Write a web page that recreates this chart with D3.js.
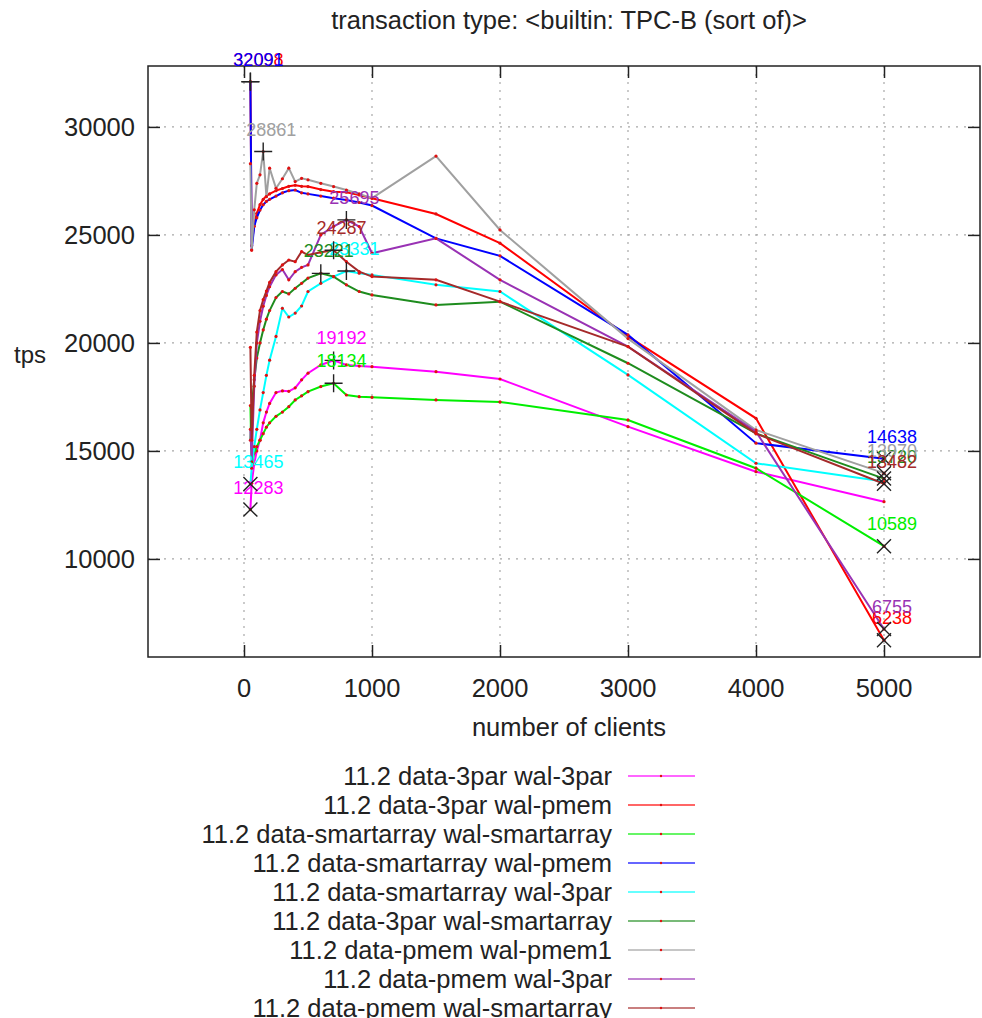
<!DOCTYPE html>
<html>
<head>
<meta charset="utf-8">
<script src="https://cdn.jsdelivr.net/npm/d3@7"></script>
<style>
  body { margin: 0; background: #fff; }
  text { font-family: "Liberation Sans", Arial, sans-serif; fill: #222; }
</style>
</head>
<body>
<div id="chart"></div>
<script>
// number of clients (shared by every run)
const clients = [50, 60, 80, 100, 125, 150, 175, 200, 250, 300, 350, 400, 450, 500,
                 600, 700, 800, 900, 1000, 1500, 2000, 3000, 4000, 5000];

const seriesNames = [
    '11.2 data-3par wal-3par',
    '11.2 data-3par wal-pmem',
    '11.2 data-smartarray wal-smartarray',
    '11.2 data-smartarray wal-pmem',
    '11.2 data-smartarray wal-3par',
    '11.2 data-3par wal-smartarray',
    '11.2 data-pmem wal-pmem1',
    '11.2 data-pmem wal-3par',
    '11.2 data-pmem wal-smartarray'
];
const seriesColors = ['#ff00ff', '#ff0000', '#00ee00', '#0000ff', '#00ffff',
                      '#1e8c1e', '#a0a0a0', '#9932b4', '#a52a2a'];

// tps per run, same order as clients
const tps3par3par = [12283, 13500, 14400, 15000, 15500, 16300, 16800, 17200, 17700, 17780, 17760, 17920, 18290, 18600,
                     18980, 19192, 18980, 18930, 18900, 18670, 18330, 16125, 14040, 12650];
const tps3parPmem = [32098, 24500, 25500, 26000, 26400, 26650, 26800, 26900, 27050, 27150, 27250, 27300, 27250, 27240,
                     27100, 27000, 26980, 26850, 26700, 25970, 24620, 20300, 16510, 6238];
const tpsSaSa = [17100, 14300, 14900, 15200, 15500, 15800, 16100, 16300, 16600, 16800, 17050, 17360, 17550, 17745,
                 17980, 18134, 17590, 17510, 17480, 17360, 17270, 16430, 14200, 10589];
const tpsSaPmem = [32091, 24300, 25400, 25800, 26150, 26400, 26550, 26650, 26800, 26950, 27050, 27080, 26950, 26900,
                   26800, 26700, 26620, 26500, 26360, 24840, 24030, 20370, 15360, 14638];
const tpsSa3par = [13465, 14200, 15200, 16000, 16900, 17700, 18500, 19200, 20300, 21600, 21200, 21380, 21710, 22380,
                   22760, 23070, 23331, 23230, 23150, 22690, 22380, 18520, 14430, 13580];
const tps3parSa = [15500, 17000, 18300, 19300, 20000, 20600, 21100, 21500, 22100, 22380, 22270, 22530, 22760, 23000,
                   23221, 23070, 22690, 22380, 22220, 21760, 21910, 19060, 15810, 13720];
const tpsPmemPmem1 = [28300, 24300, 26160, 27390, 27780, 28861, 26770, 28090, 27160, 27600, 28090, 27470, 27620, 27550,
                      27390, 27240, 27080, 26900, 26700, 28650, 25230, 20200, 15970, 13970];
const tpsPmem3par = [16000, 14500, 18000, 20000, 21000, 21700, 22200, 22600, 23150, 23400, 22920, 23300, 23500, 23610,
                     25000, 25400, 25695, 25390, 24150, 24840, 22920, 19830, 15890, 6755];
const tpsPmemSa = [19800, 15500, 18500, 20500, 21500, 22000, 22400, 22800, 23300, 23610, 23840, 23760, 24230, 24070,
                   24200, 24287, 23760, 23300, 23070, 22920, 21910, 19830, 15800, 13482];

const xTicks = [0, 1000, 2000, 3000, 4000, 5000];
const yTicks = [10000, 15000, 20000, 25000, 30000];

const allTps = [tps3par3par, tps3parPmem, tpsSaSa, tpsSaPmem, tpsSa3par,
                tps3parSa, tpsPmemPmem1, tpsPmem3par, tpsPmemSa];

const series = seriesNames.map((name, i) => ({
    name,
    color: seriesColors[i],
    values: clients.map((c, j) => ({ x: c, y: allTps[i][j] }))
}));

const W = 982, H = 1018;
const plot = { left: 148, right: 980, top: 66, bottom: 657 };
const bigFont = '25.5px';

const svg = d3.select('#chart').append('svg')
    .attr('width', W)
    .attr('height', H);

const x = d3.scaleLinear().domain([-750, 5750]).range([plot.left, plot.right]);
const y = d3.scaleLinear().domain([5460, 32820]).range([plot.bottom, plot.top]);

// grid
const grid = svg.append('g')
    .attr('stroke', '#a8a8a8')
    .attr('stroke-width', 1.2)
    .attr('stroke-dasharray', '2,6');
grid.selectAll('.gx').data(xTicks).enter().append('line')
    .attr('x1', d => x(d)).attr('x2', d => x(d))
    .attr('y1', plot.top).attr('y2', plot.bottom);
grid.selectAll('.gy').data(yTicks).enter().append('line')
    .attr('x1', plot.left).attr('x2', plot.right)
    .attr('y1', d => y(d)).attr('y2', d => y(d));

// axes with inward ticks (mirrored on top/right)
svg.append('g')
    .attr('transform', 'translate(0,' + plot.bottom + ')')
    .call(d3.axisTop(x).tickValues(xTicks).tickSize(12).tickFormat(''))
    .call(g => g.select('.domain').remove());
svg.append('g')
    .attr('transform', 'translate(0,' + plot.top + ')')
    .call(d3.axisBottom(x).tickValues(xTicks).tickSize(12).tickFormat(''))
    .call(g => g.select('.domain').remove());
svg.append('g')
    .attr('transform', 'translate(' + plot.left + ',0)')
    .call(d3.axisRight(y).tickValues(yTicks).tickSize(12).tickFormat(''))
    .call(g => g.select('.domain').remove());
svg.append('g')
    .attr('transform', 'translate(' + plot.right + ',0)')
    .call(d3.axisLeft(y).tickValues(yTicks).tickSize(12).tickFormat(''))
    .call(g => g.select('.domain').remove());
svg.selectAll('.tick line').attr('stroke', '#222').attr('stroke-width', 1.5);

// tick labels
svg.append('g').selectAll('text').data(xTicks).enter().append('text')
    .attr('x', d => x(d))
    .attr('y', 697)
    .attr('text-anchor', 'middle')
    .style('font-size', bigFont)
    .text(d => d);
svg.append('g').selectAll('text').data(yTicks).enter().append('text')
    .attr('x', 135)
    .attr('y', d => y(d) + 9)
    .attr('text-anchor', 'end')
    .style('font-size', bigFont)
    .text(d => d);

// frame
svg.append('rect')
    .attr('x', plot.left).attr('y', plot.top)
    .attr('width', plot.right - plot.left)
    .attr('height', plot.bottom - plot.top)
    .attr('fill', 'none')
    .attr('stroke', '#222')
    .attr('stroke-width', 1.5);

// titles
svg.append('text')
    .attr('x', 569).attr('y', 29)
    .attr('text-anchor', 'middle')
    .style('font-size', bigFont)
    .text('transaction type: <builtin: TPC-B (sort of)>');
svg.append('text')
    .attr('x', 569).attr('y', 736)
    .attr('text-anchor', 'middle')
    .style('font-size', bigFont)
    .text('number of clients');
svg.append('text')
    .attr('x', 30).attr('y', 363)
    .attr('text-anchor', 'middle')
    .style('font-size', '24px')
    .text('tps');

// lines
const line = d3.line().x(d => x(d.x)).y(d => y(d.y));
const layer = svg.append('g').selectAll('g').data(series).enter().append('g');
layer.append('path')
    .attr('d', d => line(d.values))
    .attr('fill', 'none')
    .attr('stroke', d => d.color)
    .attr('stroke-width', 2);
layer.selectAll('circle').data(d => d.values).enter().append('circle')
    .attr('cx', d => x(d.x))
    .attr('cy', d => y(d.y))
    .attr('r', 1.6)
    .attr('fill', '#e01010');

// max (+) and min (x) markers with their value
const marks = svg.append('g');
series.forEach(s => {
    const hi = s.values.reduce((a, b) => (b.y > a.y ? b : a));
    const lo = s.values.reduce((a, b) => (b.y < a.y ? b : a));
    [[hi, 'M-9,0H9M0,-9V9'], [lo, 'M-7,-7L7,7M-7,7L7,-7']].forEach(([p, shape]) => {
        marks.append('path')
            .attr('transform', 'translate(' + x(p.x) + ',' + y(p.y) + ')')
            .attr('d', shape)
            .attr('stroke', '#222')
            .attr('stroke-width', 1.4)
            .attr('fill', 'none');
        marks.append('text')
            .attr('x', x(p.x) + 8)
            .attr('y', y(p.y) - 16)
            .attr('text-anchor', 'middle')
            .style('font-size', '18px')
            .style('fill', s.color)
            .text(p.y);
    });
});

// legend
const legend = svg.append('g').selectAll('g').data(series).enter().append('g')
    .attr('transform', (d, i) => 'translate(0,' + (776 + i * 29) + ')');
legend.append('text')
    .attr('x', 612).attr('y', 9)
    .attr('text-anchor', 'end')
    .style('font-size', bigFont)
    .text(d => d.name);
legend.append('line')
    .attr('x1', 628).attr('x2', 695)
    .attr('stroke', d => d.color)
    .attr('stroke-opacity', 0.6)
    .attr('stroke-width', 2);
legend.append('circle')
    .attr('cx', 661).attr('r', 1.2)
    .attr('fill', '#e01010');
</script>
</body>
</html>
